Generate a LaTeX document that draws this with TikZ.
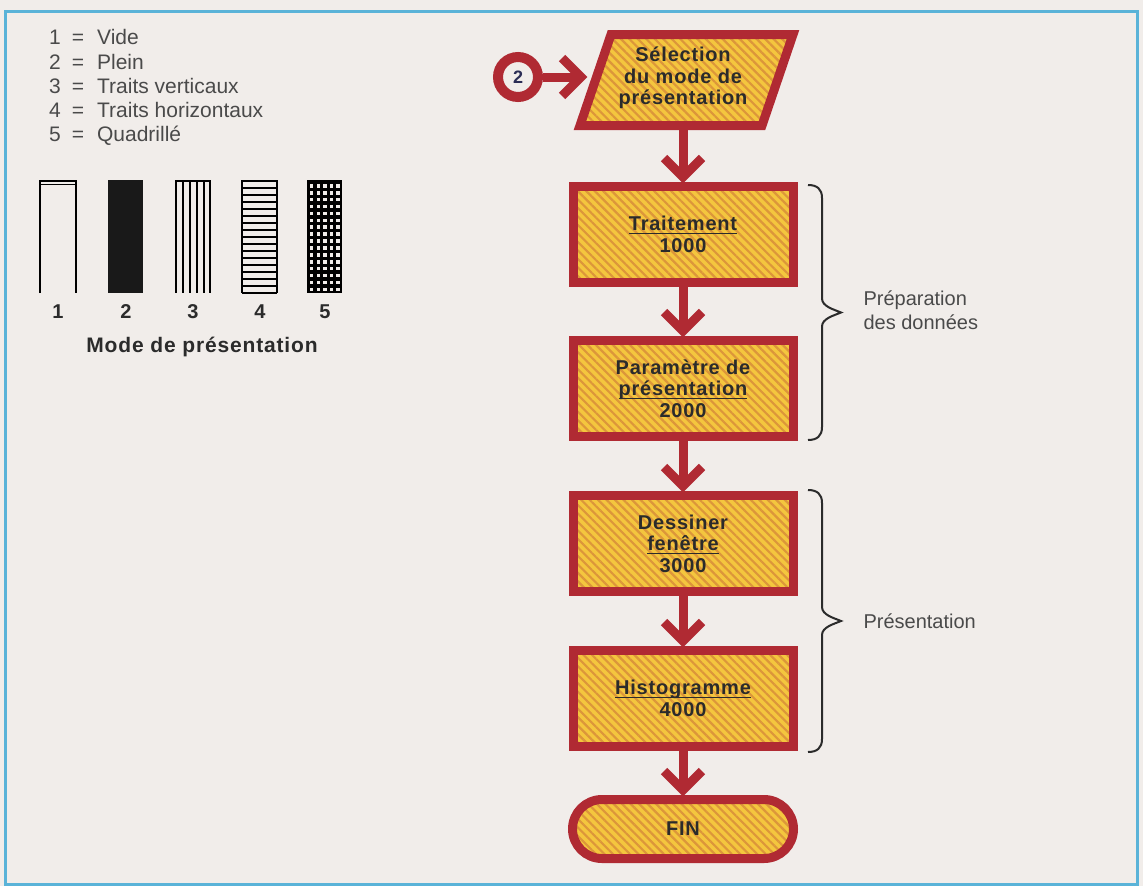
\documentclass[tikz,border=0pt]{standalone}
\usepackage{fontspec}
\setmainfont{Liberation Sans}
\usetikzlibrary{patterns.meta,shapes.misc,calc}

\definecolor{paper}{HTML}{F1EDEA}
\definecolor{frameblue}{HTML}{5AB3D8}
\definecolor{flowred}{HTML}{B02A33}
\definecolor{flowyellow}{HTML}{F4C63E}
\definecolor{flowstripe}{HTML}{DC963A}
\definecolor{ink}{HTML}{2B2B2B}
\definecolor{legendink}{HTML}{4A4A4A}
\definecolor{navy}{HTML}{2B2D55}

% underline drawn as a rule under the word
\newcommand{\undl}[1]{\setbox0\hbox{#1}\rlap{\color{ink}\rule[-3.5pt]{\wd0}{1.3pt}}\box0}

\tikzset{
  hatched/.style={preaction={fill=flowyellow},
    pattern={Lines[angle=-45,distance=6pt,line width=2.2pt]},
    pattern color=flowstripe},
  flowfont/.style={font=\fontsize{20}{21.5}\selectfont\bfseries\addfontfeature{LetterSpace=4}, text=ink},
  stepbox/.style={draw=flowred, line width=9pt, hatched, flowfont,
    minimum width=220pt, minimum height=96pt, inner sep=0pt, align=center},
  conn/.style={draw=flowred, line width=9pt},
  head/.style={draw=flowred, line width=9pt, line join=miter, miter limit=10},
  bracket/.style={draw=ink, line width=2pt},
  sidelabel/.style={font=\fontsize{20}{24}\selectfont, text=legendink,
    align=left, anchor=west},
  barline/.style={draw=black, line width=2pt}
}

% open chevron head pointing down onto the top of a node
\newcommand{\chevdown}[1]{%
  \draw[head] ([xshift=-19pt,yshift=24pt]#1.north) -- ([yshift=5pt]#1.north)
    -- ([xshift=19pt,yshift=24pt]#1.north);}

% right-hand curly bracket: x of the hooks, top y, bottom y
\newcommand{\curly}[3]{%
  \pgfmathsetmacro{\cmid}{(#2+#3)/2}%
  \draw[bracket] (#1,#2) .. controls ({#1+9},#2) and ({#1+14},{#2+4}) .. ({#1+14},{#2+13})
    -- ({#1+14},{\cmid-14}) .. controls ({#1+14},{\cmid-6}) and ({#1+26},{\cmid-3}) .. ({#1+33},\cmid)
    .. controls ({#1+26},{\cmid+3}) and ({#1+14},{\cmid+6}) .. ({#1+14},{\cmid+14})
    -- ({#1+14},{#3-13}) .. controls ({#1+14},{#3-4}) and ({#1+9},#3) .. (#1,#3);}

\begin{document}
\begin{tikzpicture}[x=1pt,y=-1pt]
  % page and frame
  \fill[paper] (0,0) rectangle (1143,886);
  \draw[frameblue, line width=3pt] (5.5,11) rectangle (1137.5,884);

  % ---------- legend ----------
  \node[anchor=west, inner sep=0pt, text=legendink,
        font=\fontsize{21}{24.3}\selectfont] (legend) at (49,88.5)
    {\begin{tabular}{@{}r@{\hspace{11pt}}c@{\hspace{13pt}}l@{}}
      1 & = & Vide\\
      2 & = & Plein\\
      3 & = & Traits verticaux\\
      4 & = & Traits horizontaux\\
      5 & = & Quadrillé
    \end{tabular}};

  % bar 1: empty
  \draw[barline] (40,293) -- (40,181) -- (76,181) -- (76,293);
  \draw[black, line width=1pt] (40,184) -- (76,184);
  % bar 2: full
  \fill[black!90] (108,180) rectangle (143,293);
  % bar 3: vertical strokes
  \draw[barline] (175,181) -- (211,181);
  \foreach \x in {176,183,190,197,204,210}
    \draw[barline] (\x,180) -- (\x,293);
  % bar 4: horizontal strokes
  \draw[barline] (242,180) -- (242,293);
  \draw[barline] (277,180) -- (277,293);
  \foreach \i in {0,...,16}
    \draw[barline] (242,{181+\i*7}) -- (277,{181+\i*7});
  % bar 5: grid
  \fill[black] (307,180) rectangle (342,293);
  \foreach \i in {0,...,15}
    \foreach \j in {0,...,4}
      \fill[paper] ({310+\j*6.6},{184+\i*6.9}) rectangle ++(3.4,3.6);

  \foreach \x/\n in {58/1,126/2,193/3,260/4,325/5}
    \node[font=\fontsize{20}{20}\selectfont\bfseries, text=ink]
      (num\n) at (\x,312) {\n};
  \node[font=\fontsize{21}{22}\selectfont\bfseries\addfontfeature{LetterSpace=4}, text=ink]
    (modetitle) at (202,347) {Mode de présentation};

  % ---------- flowchart ----------
  \draw[draw=flowred, line width=9pt, hatched, line join=miter]
    (611,34.5) -- (793,34.5) -- (762,125.5) -- (580,125.5) -- cycle;
  \node[flowfont, align=center, minimum height=91pt, inner sep=0pt]
    (sel) at (683,78) {Sélection\\du mode de\\présentation};

  \node[circle, draw=flowred, line width=10pt, fill=paper, minimum size=40pt,
        inner sep=0pt, font=\fontsize{18}{18}\selectfont\bfseries, text=navy]
    (c2) at (518,77) {2};
  \coordinate (selin) at (581,77);
  \draw[conn] (c2.east) -- (selin);
  \draw[head] ([xshift=-19pt,yshift=19pt]selin) -- (selin)
    -- ([xshift=-19pt,yshift=-19pt]selin);

  \node[stepbox] (t1) at (683,234.5) {\undl{Traitement}\\1000};
  \node[stepbox] (t2) at (683,388.5) {Paramètre de\\\undl{présentation}\\2000};
  \node[stepbox] (t3) at (683,543.5) {Dessiner\\\undl{fenêtre}\\3000};
  \node[stepbox] (t4) at (683,698.5) {\undl{Histogramme}\\4000};
  \node[rounded rectangle, draw=flowred, line width=9pt, hatched, flowfont,
        minimum width=221pt, minimum height=59pt, inner sep=0pt]
    (fin) at (683,829) {FIN};

  \draw[conn] (sel.south) -- ([yshift=5pt]t1.north);
  \chevdown{t1}
  \foreach \a/\b in {t1/t2,t2/t3,t3/t4,t4/fin}{
    \draw[conn] (\a.south) -- ([yshift=5pt]\b.north);
    \chevdown{\b}
  }

  % ---------- brackets ----------
  \curly{808}{185}{440}
  \node[sidelabel] (prep) at (860,310) {Préparation\\des données};
  \curly{808}{490}{752}
  \node[sidelabel] (pres) at (860,621) {Présentation};
\end{tikzpicture}
\end{document}
